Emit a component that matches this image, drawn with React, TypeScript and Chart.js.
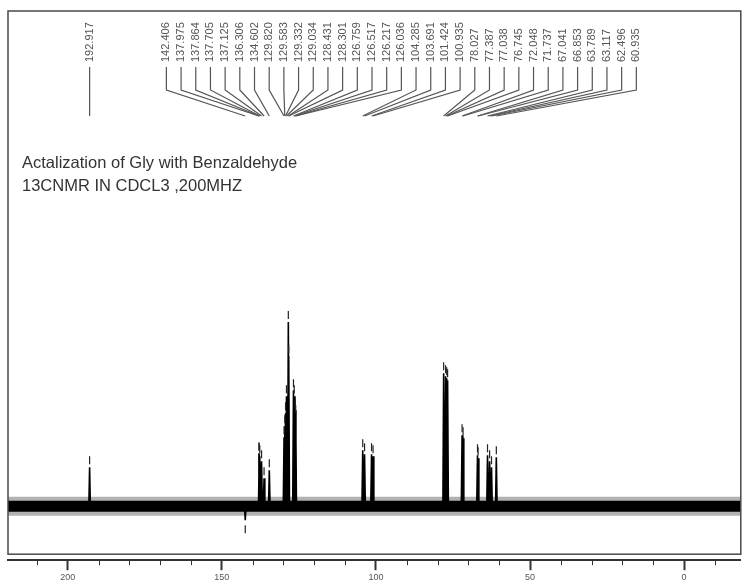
import React, { useEffect, useRef } from "react";
import { Chart, registerables } from "chart.js";
Chart.register(...registerables);

// ---- data ----
const peakPpm = [
  192.917, 142.406, 137.975, 137.864, 137.705, 137.125, 136.306, 134.602,
  129.82, 129.583, 129.332, 129.034, 128.431, 128.301, 126.759, 126.517,
  126.217, 126.036, 104.285, 103.691, 101.424, 100.935, 78.027, 77.387,
  77.038, 76.745, 72.048, 71.737, 67.041, 66.853, 63.789, 63.117, 62.496,
  60.935,
];
const peakHeight = [
  39, -14, 53, 52, 50, 45, 28, 36, 69, 80, 93, 110, 184, 150, 116, 110, 96,
  90, 56, 52, 52, 50, 133, 130, 128, 126, 71, 68, 51, 48, 51, 45, 39, 49,
];
const xRange = [-18.4, 219.4];
const yRange = [-54, 495];
const majorStep = 50;
const minorStep = 10;
const titleLines = [
  "Actalization of Gly with Benzaldehyde",
  "13CNMR IN CDCL3 ,200MHZ",
];
// spread of the crowded peak labels (ppm positions on the axis)
const labelSpread = [168.0, 15.5];

const FONT = '"Liberation Sans", Arial, sans-serif';

export default function App() {
  const ref = useRef<HTMLCanvasElement | null>(null);

  useEffect(() => {
    if (!ref.current) return;

    const peakLine: any[] = [];
    peakPpm.forEach((p, i) => {
      peakLine.push({ x: p + 0.25, y: 0 });
      peakLine.push({ x: p, y: peakHeight[i] });
      peakLine.push({ x: p - 0.25, y: 0 });
      peakLine.push({ x: p - 0.25, y: null });
    });
    const markers = peakPpm.map((p, i) => ({
      x: p,
      y: peakHeight[i] >= 0 ? peakHeight[i] + 7 : peakHeight[i] - 9,
    }));
    const baseline = [
      { x: xRange[0], y: 0 },
      { x: xRange[1], y: 0 },
    ];

    const overlay = {
      id: "nmrOverlay",
      beforeDraw(chart: any) {
        const c = chart.ctx;
        c.save();
        c.fillStyle = "#ffffff";
        c.fillRect(0, 0, chart.width, chart.height);
        c.restore();
      },
      afterDraw(chart: any) {
        const c = chart.ctx;
        const a = chart.chartArea;
        const xs = chart.scales.x;
        c.save();
        // frame
        c.strokeStyle = "#4a4a4a";
        c.lineWidth = 1.5;
        c.strokeRect(a.left, a.top, a.right - a.left, a.bottom - 6 - a.top);
        // minor ticks
        c.strokeStyle = "#333";
        c.lineWidth = 1;
        for (let v = Math.ceil(xRange[0] / minorStep) * minorStep; v <= xRange[1]; v += minorStep) {
          if (v % majorStep === 0) continue;
          const px = Math.round(xs.getPixelForValue(v)) + 0.5;
          c.beginPath();
          c.moveTo(px, a.bottom);
          c.lineTo(px, a.bottom + 5);
          c.stroke();
        }
        // title
        c.fillStyle = "#333";
        c.font = `16.5px ${FONT}`;
        c.textBaseline = "alphabetic";
        c.textAlign = "left";
        c.fillText(titleLines[0], a.left + 14, a.top + 157);
        c.fillText(titleLines[1], a.left + 14, a.top + 180);
        // peak labels
        const n = peakPpm.length;
        const s0 = xs.getPixelForValue(labelSpread[0]);
        const s1 = xs.getPixelForValue(labelSpread[1]);
        c.strokeStyle = "#555";
        c.lineWidth = 1.2;
        c.fillStyle = "#555";
        c.font = `11px ${FONT}`;
        for (let i = 0; i < n; i++) {
          const peakX = xs.getPixelForValue(peakPpm[i]);
          const lx = i === 0 ? peakX : s0 + ((s1 - s0) * (i - 1)) / (n - 2);
          c.save();
          c.translate(lx, a.top + 51);
          c.rotate(-Math.PI / 2);
          c.textAlign = "left";
          c.textBaseline = "middle";
          c.fillText(peakPpm[i].toFixed(3), 0, 0);
          c.restore();
          c.beginPath();
          c.moveTo(lx, a.top + 56);
          c.lineTo(lx, a.top + 79);
          c.lineTo(peakX, a.top + 105);
          c.stroke();
        }
        c.restore();
      },
    };

    const chart = new Chart(ref.current, {
      type: "line",
      data: {
        datasets: [
          {
            label: "markers",
            data: markers,
            showLine: false,
            pointStyle: "line",
            rotation: 90,
            pointRadius: 4,
            pointBorderWidth: 1.2,
            pointBorderColor: "#222",
            order: 0,
          } as any,
          {
            label: "peaks",
            data: peakLine,
            borderColor: "#000",
            borderWidth: 1.6,
            pointRadius: 0,
            spanGaps: false,
            order: 1,
          },
          {
            label: "noise core",
            data: baseline,
            borderColor: "#000",
            borderWidth: 11,
            pointRadius: 0,
            order: 2,
          },
          {
            label: "noise fuzz",
            data: baseline,
            borderColor: "rgba(0,0,0,0.3)",
            borderWidth: 19,
            pointRadius: 0,
            order: 3,
          },
        ],
      },
      options: {
        animation: false,
        responsive: false,
        devicePixelRatio: 1,
        layout: { padding: { left: 8, right: 3, top: 11, bottom: 1 } },
        plugins: {
          legend: { display: false },
          tooltip: { enabled: false },
          title: { display: false },
        },
        scales: {
          x: {
            type: "linear",
            reverse: true,
            min: xRange[0],
            max: xRange[1],
            border: { display: true, color: "#333", width: 2 },
            grid: {
              drawOnChartArea: false,
              drawTicks: true,
              tickLength: 10,
              tickColor: "#333",
              tickWidth: 2,
            },
            ticks: {
              stepSize: majorStep,
              includeBounds: false,
              autoSkip: false,
              maxRotation: 0,
              padding: 2,
              color: "#555",
              font: { size: 9, family: FONT },
            },
          },
          y: {
            type: "linear",
            display: false,
            min: yRange[0],
            max: yRange[1],
          },
        },
      },
      plugins: [overlay],
    });
    return () => chart.destroy();
  }, []);

  return (
    <div style={{ position: "absolute", left: 0, top: 0, width: 746, height: 586 }}>
      <canvas ref={ref} width={746} height={586} style={{ width: 746, height: 586 }} />
    </div>
  );
}
